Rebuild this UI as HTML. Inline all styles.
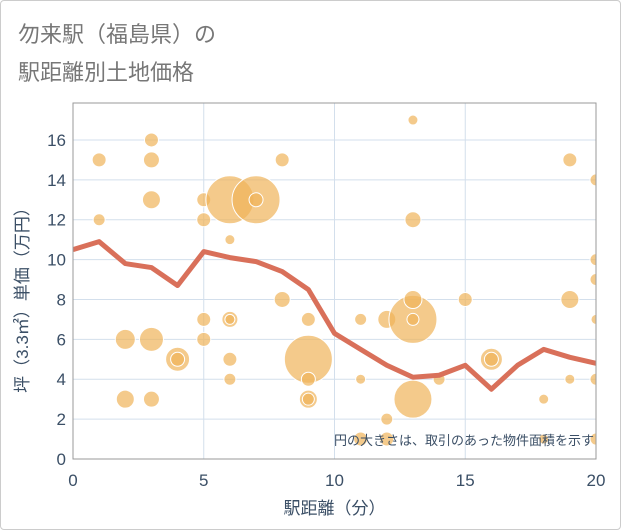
<!DOCTYPE html>
<html><head><meta charset="utf-8"><style>
body{margin:0;background:#fff;}
#wrap{position:relative;width:621px;height:530px;border:1px solid #ccc;box-sizing:border-box;border-radius:4px;background:#fff;}
.t{position:absolute;left:17px;font:22px "Liberation Sans","Noto Sans CJK JP",sans-serif;color:#777;}
svg text{font-family:"Liberation Sans","Noto Sans CJK JP",sans-serif;}
</style></head><body>
<div id="wrap">
<div class="t" style="top:16px">勿来駅（福島県）の</div>
<div class="t" style="top:54px">駅距離別土地価格</div>
<svg id="s" width="621" height="530" style="position:absolute;left:-1px;top:-1px"></svg>
</div>
<script>
const xTicks=[0,5,10,15,20];
const yTicks=[0,2,4,6,8,10,12,14,16];
const lineY=[10.5,10.9,9.8,9.6,8.7,10.4,10.1,9.9,9.4,8.5,6.3,5.5,4.7,4.1,4.2,4.7,3.5,4.7,5.5,5.1,4.8];
const bubX=[1,1,3,3,3,2,3,2,3,4,4,5,5,6,7,7,6,5,5,6,6,6,6,8,8,9,9,9,9,9,11,11,12,13,13,13,13,13,13,12,12,11,14,15,16,16,18,18,19,19,19,20,20,20,20,20,20];
const bubY=[15,12,16,15,13,6,6,3,3,5,5,13,12,13,13,13,11,7,6,7,7,5,4,15,8,7,5,4,3,3,7,4,7,7,8,7,3,12,17,2,1,1,4,8,5,5,3,1,15,8,4,14,10,9,7,4,1];
const bubR=[7,6,7,8,9,10,12,9,8,12,7,7,7,24,24,7,5,7,7,8,5,7,6,7,8,7,24,7,9,6,6,5,9,24,9,6,19,8,5,6,7,7,6,7,11,7,5,5,7,9,5,6,6,6,5,6,6];
const X0=73,X1=596,Y0=459,YT=103;
const sx=v=>X0+(X1-X0)*v/20, sy=v=>Y0-v*19.94;
const s=document.getElementById('s'),NS='http://www.w3.org/2000/svg';
function mk(t,a,p){const e=document.createElementNS(NS,t);for(const k in a)e.setAttribute(k,a[k]);(p||s).appendChild(e);return e;}
const clip=mk('clipPath',{id:'c'});mk('rect',{x:X0,y:YT,width:X1-X0,height:Y0-YT},clip);
yTicks.forEach(v=>{const l=mk('line',{x1:X0,x2:X1,y1:sy(v),y2:sy(v),stroke:'#d3dfec','stroke-width':1});

const t=mk('text',{x:66,y:sy(v)+6,'text-anchor':'end','font-size':17,fill:'#3b4f66'});t.textContent=v;
});
xTicks.forEach(v=>{const l=mk('line',{x1:sx(v),x2:sx(v),y1:YT,y2:Y0,stroke:'#d3dfec','stroke-width':1});

const t=mk('text',{x:sx(v),y:486,'text-anchor':'middle','font-size':17,fill:'#3b4f66'});t.textContent=v;
});
const g=mk('g',{'clip-path':'url(#c)'});
bubX.forEach((x,i)=>{const c=mk('circle',{cx:sx(x),cy:sy(bubY[i]),r:bubR[i],fill:'#f0b45a','fill-opacity':0.7,stroke:'#fff','stroke-width':1},g);
});
const pl=mk('polyline',{points:lineY.map((v,i)=>sx(i)+','+sy(v)).join(' '),fill:'none',stroke:'#d9705a','stroke-width':5,'stroke-linejoin':'round'},g);

const fr=mk('rect',{x:X0,y:YT,width:X1-X0,height:Y0-YT,fill:'none',stroke:'#999','stroke-width':1});

const n=mk('text',{x:594,y:445,'text-anchor':'end','font-size':13,fill:'#3b4f66'});n.textContent='円の大きさは、取引のあった物件面積を示す';

const xt=mk('text',{x:sx(10),y:514,'text-anchor':'middle','font-size':17,fill:'#3b4f66'});xt.textContent='駅距離（分）';

const yt=mk('text',{x:0,y:0,'text-anchor':'middle','font-size':17,fill:'#3b4f66',transform:'translate(28,'+((YT+Y0)/2+15)+') rotate(-90)'});yt.textContent='坪（3.3㎡）単価（万円）';

</script>
</body></html>
